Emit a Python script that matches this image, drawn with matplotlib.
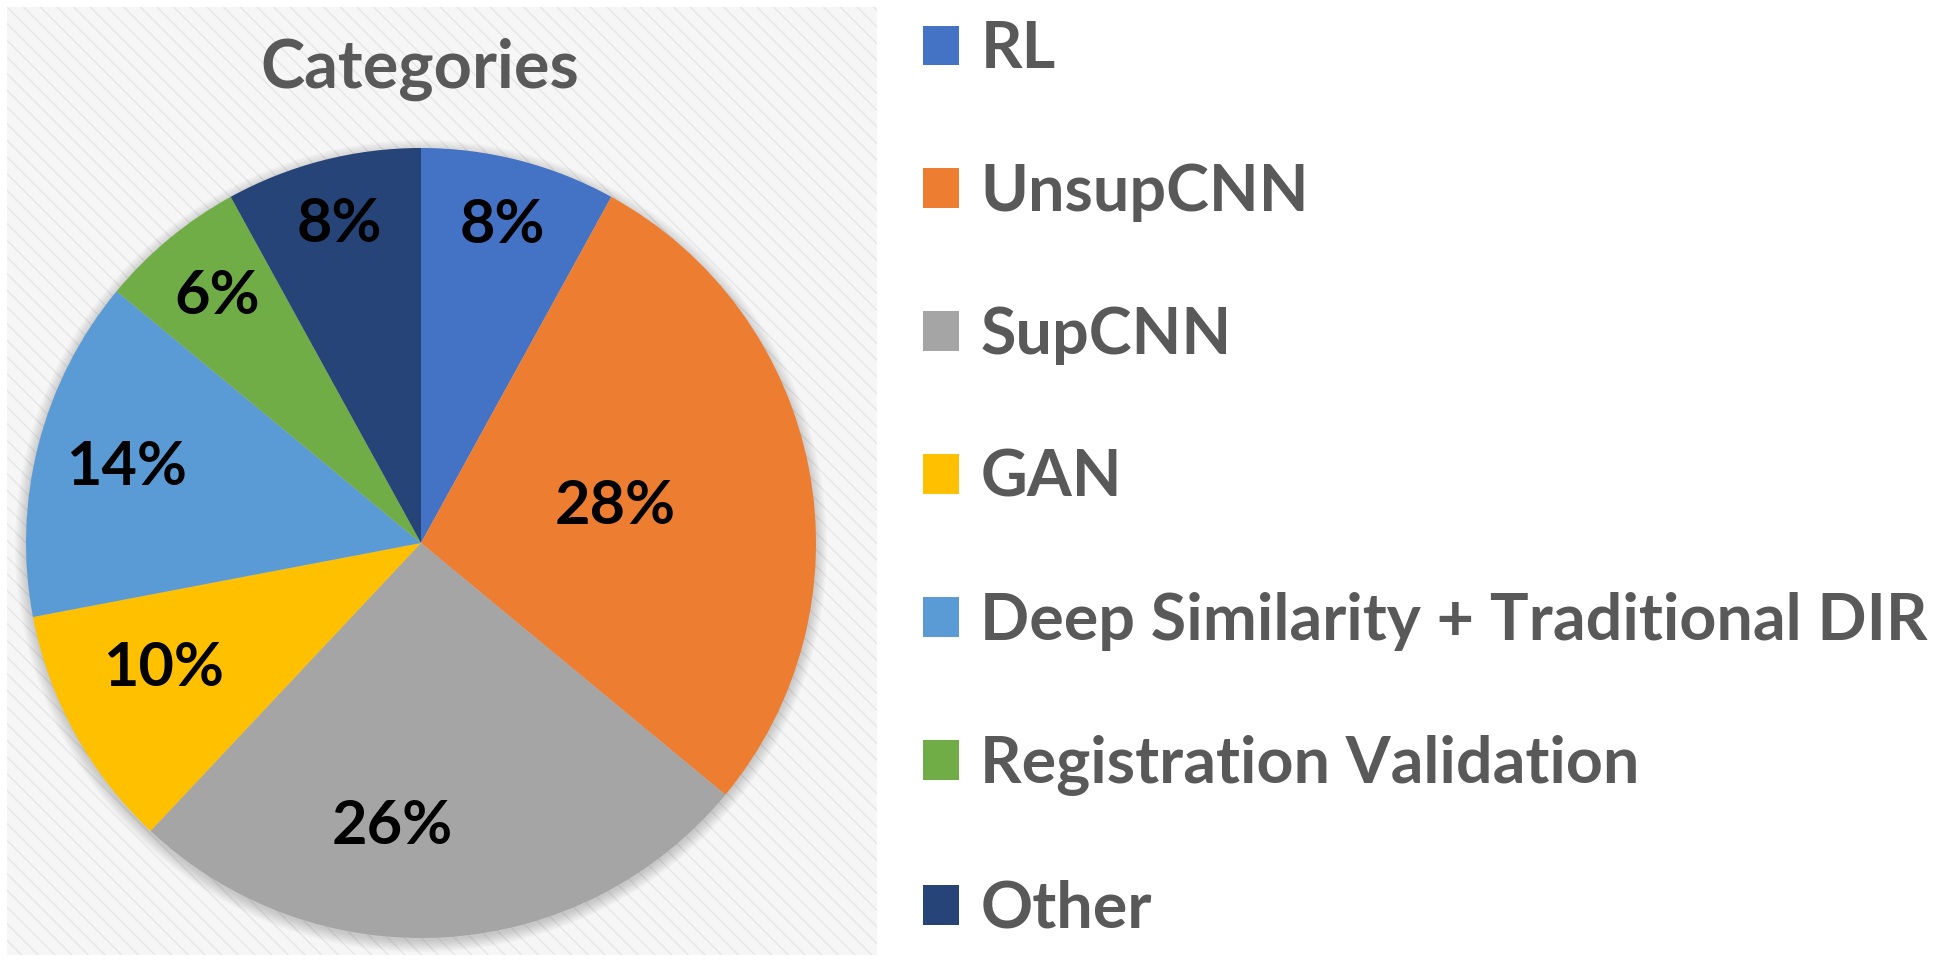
import matplotlib.pyplot as plt
import matplotlib.patches as mpatches
import numpy as np

categories = ['RL', 'UnsupCNN', 'SupCNN', 'GAN',
              'Deep Similarity + Traditional DIR', 'Registration Validation', 'Other']
shares = [8, 28, 26, 10, 14, 6, 8]
colors = ['#4472C4', '#ED7D31', '#A5A5A5', '#FFC000', '#5B9BD5', '#70AD47', '#264478']
# where Excel put each percent label: radius fraction, and fraction along the wedge
label_r = [0.83, 0.50, 0.72, 0.725, 0.77, 0.81, 0.835]
label_f = [0.5, 0.5, 0.6, 0.58, 0.5, 0.5, 0.5]

plt.rcParams['font.family'] = ['Lato', 'DejaVu Sans']
plt.rcParams['font.weight'] = 'bold'
plt.rcParams['hatch.linewidth'] = 1.0

W, H = 1950, 965
fig = plt.figure(figsize=(W / 100, H / 100), dpi=100)

# hatched grey panel behind the pie
bg = fig.add_axes([0, 0, 1, 1])
bg.set_xlim(0, W)
bg.set_ylim(H, 0)
bg.axis('off')
bg.add_patch(mpatches.Rectangle((7, 7), 870, 948, facecolor='#F6F6F6',
                                edgecolor='#E6E6E6', hatch='\\\\', linewidth=0))

cx, cy, r = 421, 543, 395
ax = fig.add_axes([(cx - r) / W, (H - cy - r) / H, 2 * r / W, 2 * r / H])
ax.patch.set_visible(False)

# soft shadow under the pie
for i in range(8):
    ax.add_patch(mpatches.Circle((0, -0.008), 1.0 + i * 0.004, color='black',
                                 alpha=0.025, linewidth=0, clip_on=False, zorder=0))

wedges, _ = ax.pie(shares, colors=colors, startangle=90, counterclock=False,
                   wedgeprops=dict(linewidth=0, zorder=1))
ax.set_aspect('auto')
ax.set_xlim(-1, 1)
ax.set_ylim(-1, 1)

for w, v, lr, lf in zip(wedges, shares, label_r, label_f):
    # counterclock=False: theta2 is where the wedge starts going clockwise
    ang = np.deg2rad(w.theta2 - lf * (w.theta2 - w.theta1))
    ax.text(lr * np.cos(ang), lr * np.sin(ang), f'{v}%', ha='center', va='center',
            fontsize=44, fontweight='bold', color='black', zorder=3)

fig.text(420 / W, 1 - 88 / H, 'Categories', ha='center', va='baseline',
         fontsize=48, fontweight='bold', color='#595959')

leg = fig.legend(wedges, categories, loc='upper left', bbox_to_anchor=(923 / W, 1 - 20 / H),
                 frameon=False, fontsize=46.5, labelspacing=1.30, handlelength=0.56,
                 handleheight=0.56, handletextpad=0.33, borderaxespad=0, borderpad=0)
for t in leg.get_texts():
    t.set_color('#595959')

fig.savefig('out.png', dpi=100)
